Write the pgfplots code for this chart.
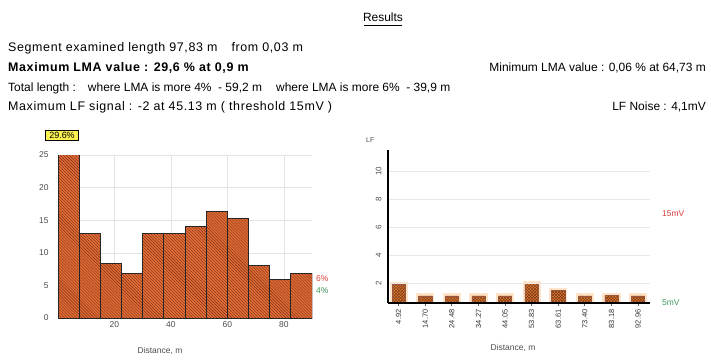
\documentclass[border=0pt]{standalone}
\usepackage{fontspec}
\setmainfont{Liberation Sans}
\usepackage{pgfplots}
\pgfplotsset{compat=1.18}
\usetikzlibrary{patterns}
\definecolor{barfill}{RGB}{226,110,55}
\definecolor{stripe}{RGB}{125,45,20}
\definecolor{barfillB}{RGB}{214,130,50}
\definecolor{redlab}{RGB}{220,60,60}
\definecolor{greenlab}{RGB}{60,150,90}
\definecolor{boxyellow}{RGB}{250,240,80}
\begin{document}
\begin{tikzpicture}[x=1bp,y=1bp]
\path[use as bounding box] (0,0) rectangle (711,361);
\def\ts{\fontsize{12}{14}\selectfont}
\def\tw{\fontsize{12.5}{14}\selectfont\addfontfeatures{LetterSpace=5}}
% header
\node[anchor=base] at (383,340) {\ts Results};
\draw[line width=0.6pt] (364,336) -- (402,336);
\node[anchor=base west, inner sep=0] at (8,310) {\tw Segment examined length 97,83 m\hspace{14bp}from 0,03 m};
\node[anchor=base west, inner sep=0] at (8,290) {\tw\bfseries Maximum LMA value : 29,6 \% at 0,9 m};
\node[anchor=base east, inner sep=0] at (706,290) {\ts Minimum LMA value : 0,06 \% at 64,73 m};
\node[anchor=base west, inner sep=0] at (8,270) {\ts Total length :\hspace{12bp}where LMA is more 4\% \ - 59,2 m};
\node[anchor=base west, inner sep=0] at (276,270) {\ts where LMA is more 6\% \ - 39,9 m};
\node[anchor=base west, inner sep=0] at (8,251) {\tw Maximum LF signal : -2 at 45.13 m ( threshold 15mV )};
\node[anchor=base east, inner sep=0] at (706,251) {\ts LF Noise : 4,1mV};

% left chart
\begin{axis}[
  at={(58bp,43bp)}, anchor=south west, scale only axis,
  width=254bp, height=163bp,
  xmin=0, xmax=90, ymin=0, ymax=25,
  xtick={20,40,60,80}, ytick={0,5,10,15,20,25},
  axis line style={draw=none},
  grid=major, grid style={gray!22, line width=0.5pt},
  tick style={draw=none},
  /pgf/number format/assume math mode=true,
  ticklabel style={font=\fontsize{8.5}{9}\selectfont, text=black!70},
  yticklabel style={xshift=-6bp},
  clip=true,
]
\addplot[ybar interval, fill=barfill, draw=black!85, line width=0.9pt,
  postaction={pattern=north west lines, pattern color=stripe}]
  coordinates {(0,29.6) (7.5,13) (15,8.3) (22.5,6.8) (30,12.9) (37.5,12.9) (45,14.1) (52.5,16.3) (60,15.2) (67.5,8.1) (75,5.9) (82.5,6.8) (90,6.8)};
\end{axis}
\node[draw=black, fill=boxyellow, inner xsep=4pt, inner ysep=2pt, font=\fontsize{9}{10}\selectfont] at (62,226) {29.6\%};
\node[anchor=west, text=redlab, font=\fontsize{8.5}{9}\selectfont, inner sep=0] at (316,82) {6\%};
\node[anchor=west, text=greenlab, font=\fontsize{8.5}{9}\selectfont, inner sep=0] at (316,70) {4\%};
\node[font=\fontsize{8.5}{9}\selectfont, text=black!70] at (160,10) {Distance, m};

% right chart
\begin{axis}[
  at={(388bp,58bp)}, anchor=south west, scale only axis,
  width=262bp, height=153bp,
  xmin=-0.4, xmax=9.45, ymin=0.6, ymax=11.5,
  axis x line*=bottom, axis y line*=left,
  axis line style={line width=1.3pt, black},
  axis on top,
  ytick={2,4,6,8,10}, ymajorgrids, grid style={gray!18, line width=0.5pt},
  xtick={0,...,9},
  xticklabels={4.92,14.70,24.48,34.27,44.05,53.83,63.61,73.40,83.18,92.96},
  xticklabel style={rotate=90, anchor=east, font=\fontsize{7.5}{8}\selectfont, text=black!80},
  /pgf/number format/assume math mode=true,
  yticklabel style={rotate=90, anchor=south, font=\fontsize{8}{9}\selectfont, text=black!70},
  xtick style={draw=black!60, thick}, tick align=outside, major tick length=3bp,
  ytick style={draw=none},
]
\addplot[ybar, bar shift=0pt, bar width=0.5, fill=barfillB, draw=stripe!80, line width=0.5pt,
  preaction={draw=orange!22, line width=5pt},
  postaction={pattern=crosshatch, pattern color=stripe}]
  coordinates {(0,1.95) (1,1.1) (2,1.1) (3,1.1) (4,1.1) (5,2.0) (6,1.5) (7,1.1) (8,1.15) (9,1.1)};
\addplot[gray!70, dotted, line width=0.8pt] coordinates {(-0.4,10) (9.45,10)};
\end{axis}
\node[anchor=west, font=\fontsize{7}{8}\selectfont, text=black!70, inner sep=0] at (366,221) {LF};
\node[anchor=west, text=redlab, font=\fontsize{8.5}{9}\selectfont, inner sep=0] at (662,147) {15mV};
\node[anchor=west, text=greenlab, font=\fontsize{8.5}{9}\selectfont, inner sep=0] at (662,58) {5mV};
\node[font=\fontsize{8.5}{9}\selectfont, text=black!70] at (513,13) {Distance, m};
\end{tikzpicture}
\end{document}
